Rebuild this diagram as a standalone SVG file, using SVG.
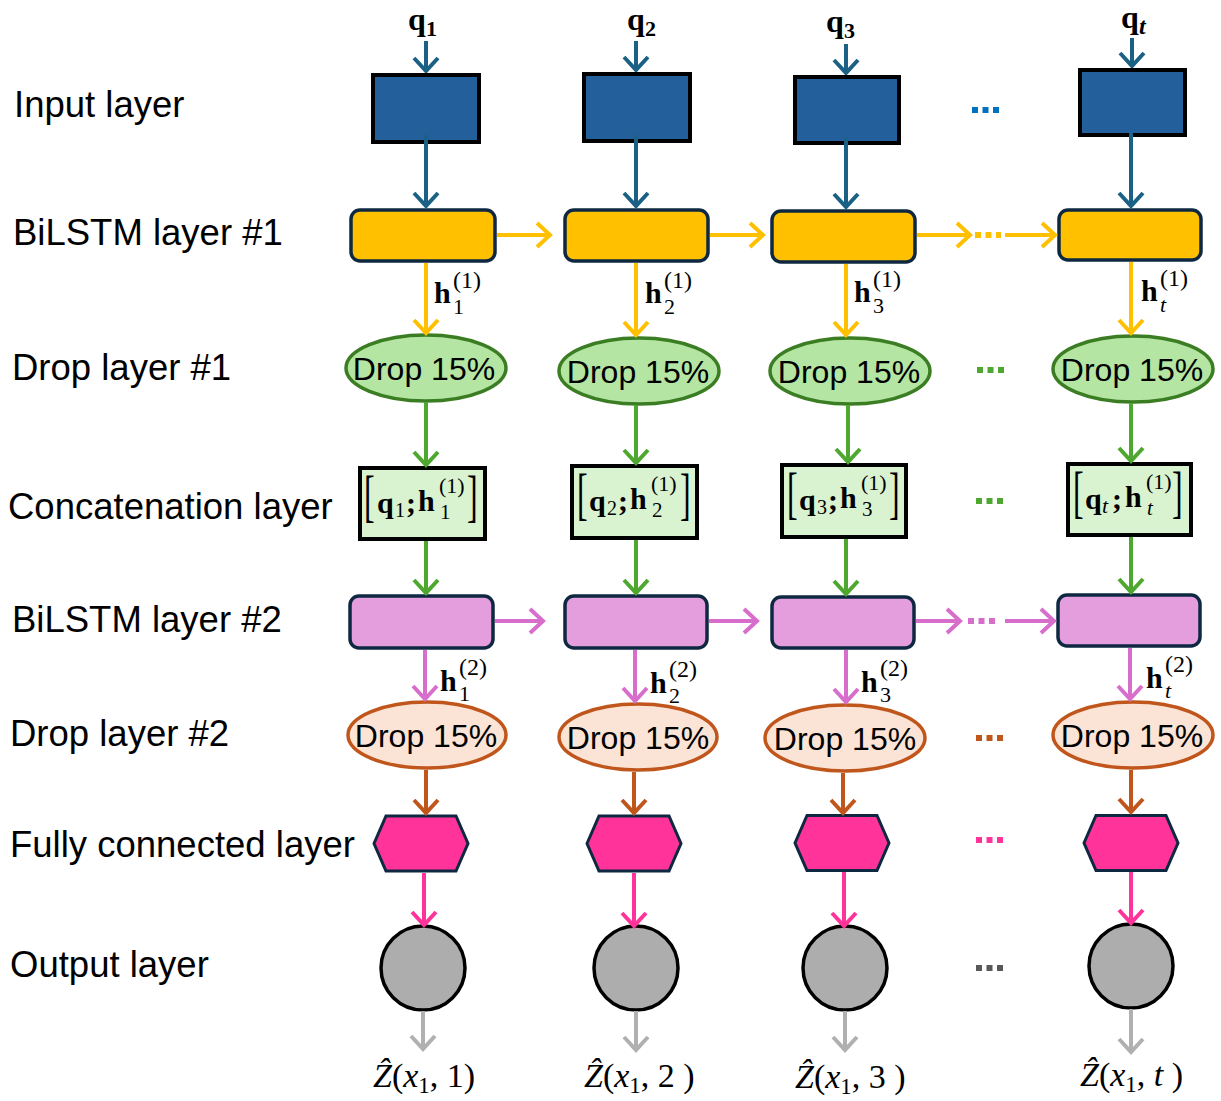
<svg xmlns="http://www.w3.org/2000/svg" width="1221" height="1101" viewBox="0 0 1221 1101">
<style>
.lbl{font-family:"Liberation Sans",Arial,sans-serif;font-size:36.5px;fill:#000}
.drop{font-family:"Liberation Sans",Arial,sans-serif;font-size:32px;fill:#000;text-anchor:middle}
.m{font-family:"Liberation Serif","Times New Roman",serif;fill:#000}
.b{font-weight:bold}
.i{font-style:italic}
.inp{fill:#225F9B;stroke:#000;stroke-width:4}
.ls1{fill:#FFC000;stroke:#0E2841;stroke-width:3.5}
.ls2{fill:#E59EDD;stroke:#0E2841;stroke-width:3.5}
.d1{fill:#B4E5A2;stroke:#3B7D23;stroke-width:3.5}
.d2{fill:#FBE3D6;stroke:#C0561B;stroke-width:3.5}
.cat{fill:#D9F2D0;stroke:#000;stroke-width:4}
.fc{fill:#FF3399;stroke:#0E2841;stroke-width:3}
.out{fill:#ADADAD;stroke:#000;stroke-width:3.5}
.a{fill:none;stroke-width:4}
.blue{stroke:#1B6186}
.yel{stroke:#FFC000}
.grn{stroke:#4EA72E}
.lil{stroke:#D86ECC}
.brn{stroke:#C0561B}
.pnk{stroke:#FF3399}
.gry{stroke:#B0B0B0}
.dots{fill:none;stroke-width:6;stroke-dasharray:6 4.5}
</style>
<defs>
<marker id="mb" markerUnits="userSpaceOnUse" markerWidth="30" markerHeight="30" refX="14" refY="12" orient="auto" overflow="visible"><path d="M1,0 L14,12 L1,24" fill="none" stroke="#1B6186" stroke-width="4"/></marker>
<marker id="my" markerUnits="userSpaceOnUse" markerWidth="30" markerHeight="30" refX="14" refY="12" orient="auto" overflow="visible"><path d="M1,0 L14,12 L1,24" fill="none" stroke="#FFC000" stroke-width="4"/></marker>
<marker id="mg" markerUnits="userSpaceOnUse" markerWidth="30" markerHeight="30" refX="14" refY="12" orient="auto" overflow="visible"><path d="M1,0 L14,12 L1,24" fill="none" stroke="#4EA72E" stroke-width="4"/></marker>
<marker id="ml" markerUnits="userSpaceOnUse" markerWidth="30" markerHeight="30" refX="14" refY="12" orient="auto" overflow="visible"><path d="M1,0 L14,12 L1,24" fill="none" stroke="#D86ECC" stroke-width="4"/></marker>
<marker id="mr" markerUnits="userSpaceOnUse" markerWidth="30" markerHeight="30" refX="14" refY="12" orient="auto" overflow="visible"><path d="M1,0 L14,12 L1,24" fill="none" stroke="#C0561B" stroke-width="4"/></marker>
<marker id="mp" markerUnits="userSpaceOnUse" markerWidth="30" markerHeight="30" refX="14" refY="12" orient="auto" overflow="visible"><path d="M1,0 L14,12 L1,24" fill="none" stroke="#FF3399" stroke-width="4"/></marker>
<marker id="ma" markerUnits="userSpaceOnUse" markerWidth="30" markerHeight="30" refX="14" refY="12" orient="auto" overflow="visible"><path d="M1,0 L14,12 L1,24" fill="none" stroke="#B0B0B0" stroke-width="4"/></marker>
<polygon id="hex" points="-47,0 -35,-27.5 35,-27.5 47,0 35,27.5 -35,27.5"/>
</defs>

<g id="layer-labels">
<text class="lbl" x="14" y="117">Input layer</text>
<text class="lbl" x="13" y="245">BiLSTM layer #1</text>
<text class="lbl" x="12" y="380">Drop layer #1</text>
<text class="lbl" x="8" y="519">Concatenation layer</text>
<text class="lbl" x="12" y="632">BiLSTM layer #2</text>
<text class="lbl" x="10" y="746">Drop layer #2</text>
<text class="lbl" x="10" y="857">Fully connected layer</text>
<text class="lbl" x="10" y="977">Output layer</text>
</g>

<g id="input-labels">
<text class="m b" x="408" y="30" font-size="32">q</text><text class="m b" x="426" y="36" font-size="22">1</text>
<text class="m b" x="627" y="30" font-size="32">q</text><text class="m b" x="645" y="36" font-size="22">2</text>
<text class="m b" x="826" y="32" font-size="32">q</text><text class="m b" x="844" y="38" font-size="22">3</text>
<text class="m b" x="1121" y="28" font-size="32">q</text><text class="m b i" x="1139" y="34" font-size="24">t</text>
</g>

<g id="connectors">
<line class="a blue" x1="426" y1="41" x2="426" y2="71" marker-end="url(#mb)"/>
<line class="a blue" x1="636" y1="41" x2="636" y2="70" marker-end="url(#mb)"/>
<line class="a blue" x1="846" y1="44" x2="846" y2="73" marker-end="url(#mb)"/>
<line class="a blue" x1="1132" y1="38" x2="1132" y2="66" marker-end="url(#mb)"/>
</g>

<g id="input-1"><rect class="inp" x="373" y="75" width="106" height="67"/></g>
<g id="input-2"><rect class="inp" x="584" y="74" width="106" height="67"/></g>
<g id="input-3"><rect class="inp" x="795" y="77" width="104" height="66"/></g>
<g id="input-t"><rect class="inp" x="1080" y="70" width="105" height="65"/></g>

<g id="bilstm1-1"><rect class="ls1" x="351" y="210" width="144" height="51" rx="9"/></g>
<g id="bilstm1-2"><rect class="ls1" x="565" y="210" width="143" height="51" rx="9"/></g>
<g id="bilstm1-3"><rect class="ls1" x="772" y="211" width="143" height="51" rx="9"/></g>
<g id="bilstm1-t"><rect class="ls1" x="1059" y="210" width="142" height="50" rx="9"/></g>

<g id="drop1-1"><ellipse class="d1" cx="426" cy="368" rx="80" ry="33"/><text class="drop" x="424" y="380">Drop 15%</text></g>
<g id="drop1-2"><ellipse class="d1" cx="639" cy="371" rx="80" ry="33"/><text class="drop" x="638" y="383">Drop 15%</text></g>
<g id="drop1-3"><ellipse class="d1" cx="850" cy="371" rx="80" ry="33"/><text class="drop" x="849" y="383">Drop 15%</text></g>
<g id="drop1-t"><ellipse class="d1" cx="1133" cy="369" rx="80" ry="33"/><text class="drop" x="1132" y="381">Drop 15%</text></g>

<g id="concat-1"><rect class="cat" x="360" y="468" width="125" height="71"/>
<text class="m" font-size="32" transform="translate(364,515) scale(1,1.75)">[</text>
<text class="m b" x="377" y="513" font-size="30">q</text><text class="m" x="395" y="517" font-size="20">1</text>
<text class="m b" x="406" y="513" font-size="30">;</text>
<text class="m b" x="418" y="511" font-size="30">h</text><text class="m" x="439" y="493" font-size="22">(1)</text><text class="m" x="440" y="519" font-size="21">1</text>
<text class="m" font-size="32" transform="translate(467,515) scale(1,1.75)">]</text>
</g>
<g id="concat-2"><rect class="cat" x="572" y="466" width="125" height="72"/>
<text class="m" font-size="32" transform="translate(577,513) scale(1,1.75)">[</text>
<text class="m b" x="589" y="511" font-size="30">q</text><text class="m" x="607" y="515" font-size="20">2</text>
<text class="m b" x="618" y="511" font-size="30">;</text>
<text class="m b" x="630" y="509" font-size="30">h</text><text class="m" x="651" y="491" font-size="22">(1)</text><text class="m" x="652" y="517" font-size="21">2</text>
<text class="m" font-size="32" transform="translate(680,513) scale(1,1.75)">]</text>
</g>
<g id="concat-3"><rect class="cat" x="782" y="465" width="124" height="72"/>
<text class="m" font-size="32" transform="translate(787,512) scale(1,1.75)">[</text>
<text class="m b" x="799" y="510" font-size="30">q</text><text class="m" x="817" y="514" font-size="20">3</text>
<text class="m b" x="828" y="510" font-size="30">;</text>
<text class="m b" x="840" y="508" font-size="30">h</text><text class="m" x="861" y="490" font-size="22">(1)</text><text class="m" x="862" y="516" font-size="21">3</text>
<text class="m" font-size="32" transform="translate(889,512) scale(1,1.75)">]</text>
</g>
<g id="concat-t"><rect class="cat" x="1068" y="464" width="123" height="71"/>
<text class="m" font-size="32" transform="translate(1073,511) scale(1,1.75)">[</text>
<text class="m b" x="1085" y="509" font-size="30">q</text><text class="m i" x="1102" y="513" font-size="22">t</text>
<text class="m b" x="1112" y="509" font-size="30">;</text>
<text class="m b" x="1125" y="507" font-size="30">h</text><text class="m" x="1146" y="489" font-size="22">(1)</text><text class="m i" x="1147" y="515" font-size="21">t</text>
<text class="m" font-size="32" transform="translate(1172,511) scale(1,1.75)">]</text>
</g>

<g id="bilstm2-1"><rect class="ls2" x="350" y="596" width="143" height="52" rx="9"/></g>
<g id="bilstm2-2"><rect class="ls2" x="565" y="596" width="142" height="52" rx="9"/></g>
<g id="bilstm2-3"><rect class="ls2" x="772" y="597" width="142" height="51" rx="9"/></g>
<g id="bilstm2-t"><rect class="ls2" x="1058" y="595" width="142" height="51" rx="9"/></g>

<g id="drop2-1"><ellipse class="d2" cx="427" cy="735" rx="79" ry="33"/><text class="drop" x="426" y="747">Drop 15%</text></g>
<g id="drop2-2"><ellipse class="d2" cx="638" cy="737" rx="79" ry="33"/><text class="drop" x="638" y="749">Drop 15%</text></g>
<g id="drop2-3"><ellipse class="d2" cx="845" cy="738" rx="80" ry="33"/><text class="drop" x="845" y="750">Drop 15%</text></g>
<g id="drop2-t"><ellipse class="d2" cx="1133" cy="735" rx="80" ry="33"/><text class="drop" x="1132" y="747">Drop 15%</text></g>

<g id="fc-1"><use href="#hex" class="fc" transform="translate(421,843.5)"/></g>
<g id="fc-2"><use href="#hex" class="fc" transform="translate(634,843.5)"/></g>
<g id="fc-3"><use href="#hex" class="fc" transform="translate(842,843)"/></g>
<g id="fc-t"><use href="#hex" class="fc" transform="translate(1131,843)"/></g>

<g id="out-1"><circle class="out" cx="423" cy="968" r="42"/></g>
<g id="out-2"><circle class="out" cx="636" cy="968" r="42"/></g>
<g id="out-3"><circle class="out" cx="845" cy="968" r="42"/></g>
<g id="out-t"><circle class="out" cx="1131" cy="966" r="42"/></g>

<g id="connectors-main">
<line class="a blue" x1="426" y1="135" x2="426" y2="206" marker-end="url(#mb)"/>
<line class="a blue" x1="636" y1="135" x2="636" y2="206" marker-end="url(#mb)"/>
<line class="a blue" x1="846" y1="138" x2="846" y2="207" marker-end="url(#mb)"/>
<line class="a blue" x1="1131" y1="133" x2="1131" y2="206" marker-end="url(#mb)"/>
<line class="a yel" x1="497" y1="235" x2="550" y2="235" marker-end="url(#my)"/>
<line class="a yel" x1="710" y1="235" x2="763" y2="235" marker-end="url(#my)"/>
<line class="a yel" x1="917" y1="235" x2="970" y2="235" marker-end="url(#my)"/>
<line class="dots yel" x1="975" y1="235" x2="1001" y2="235"/>
<line class="a yel" x1="1005" y1="235" x2="1055" y2="235" marker-end="url(#my)"/>
<line class="a yel" x1="426" y1="263" x2="426" y2="333" marker-end="url(#my)"/>
<line class="a yel" x1="636" y1="263" x2="636" y2="335" marker-end="url(#my)"/>
<line class="a yel" x1="846" y1="264" x2="846" y2="335" marker-end="url(#my)"/>
<line class="a yel" x1="1131" y1="262" x2="1131" y2="333" marker-end="url(#my)"/>
<line class="a grn" x1="426" y1="402" x2="426" y2="465" marker-end="url(#mg)"/>
<line class="a grn" x1="636" y1="405" x2="636" y2="463" marker-end="url(#mg)"/>
<line class="a grn" x1="848" y1="405" x2="848" y2="462" marker-end="url(#mg)"/>
<line class="a grn" x1="1131" y1="403" x2="1131" y2="461" marker-end="url(#mg)"/>
<line class="a grn" x1="426" y1="541" x2="426" y2="593" marker-end="url(#mg)"/>
<line class="a grn" x1="636" y1="540" x2="636" y2="593" marker-end="url(#mg)"/>
<line class="a grn" x1="846" y1="539" x2="846" y2="594" marker-end="url(#mg)"/>
<line class="a grn" x1="1131" y1="537" x2="1131" y2="592" marker-end="url(#mg)"/>
<line class="a lil" x1="495" y1="621" x2="543" y2="621" marker-end="url(#ml)"/>
<line class="a lil" x1="709" y1="621" x2="757" y2="621" marker-end="url(#ml)"/>
<line class="a lil" x1="916" y1="621" x2="960" y2="621" marker-end="url(#ml)"/>
<line class="dots lil" x1="968" y1="621" x2="998" y2="621"/>
<line class="a lil" x1="1005" y1="621" x2="1054" y2="621" marker-end="url(#ml)"/>
<line class="a lil" x1="425" y1="650" x2="425" y2="699" marker-end="url(#ml)"/>
<line class="a lil" x1="635" y1="650" x2="635" y2="701" marker-end="url(#ml)"/>
<line class="a lil" x1="846" y1="650" x2="846" y2="702" marker-end="url(#ml)"/>
<line class="a lil" x1="1130" y1="648" x2="1130" y2="699" marker-end="url(#ml)"/>
<line class="a brn" x1="426" y1="770" x2="426" y2="813" marker-end="url(#mr)"/>
<line class="a brn" x1="634" y1="772" x2="634" y2="813" marker-end="url(#mr)"/>
<line class="a brn" x1="843" y1="773" x2="843" y2="813" marker-end="url(#mr)"/>
<line class="a brn" x1="1131" y1="770" x2="1131" y2="812" marker-end="url(#mr)"/>
<line class="a pnk" x1="424" y1="873" x2="424" y2="925" marker-end="url(#mp)"/>
<line class="a pnk" x1="634" y1="873" x2="634" y2="926" marker-end="url(#mp)"/>
<line class="a pnk" x1="844" y1="872" x2="844" y2="926" marker-end="url(#mp)"/>
<line class="a pnk" x1="1131" y1="872" x2="1131" y2="923" marker-end="url(#mp)"/>
<line class="a gry" x1="423" y1="1011" x2="423" y2="1049" marker-end="url(#ma)"/>
<line class="a gry" x1="636" y1="1011" x2="636" y2="1050" marker-end="url(#ma)"/>
<line class="a gry" x1="845" y1="1011" x2="845" y2="1050" marker-end="url(#ma)"/>
<line class="a gry" x1="1131" y1="1009" x2="1131" y2="1052" marker-end="url(#ma)"/>
</g>

<g id="ellipsis">
<line class="dots" stroke="#0070C0" x1="972" y1="110" x2="1000" y2="110"/>
<line class="dots" stroke="#4EA72E" x1="977" y1="370" x2="1005" y2="370"/>
<line class="dots" stroke="#4EA72E" x1="976" y1="501" x2="1004" y2="501"/>
<line class="dots" stroke="#C0561B" x1="976" y1="738" x2="1004" y2="738"/>
<line class="dots" stroke="#FF3399" x1="976" y1="840" x2="1004" y2="840"/>
<line class="dots" stroke="#595959" x1="976" y1="968" x2="1004" y2="968"/>
</g>

<g id="h-labels">
<text class="m b" x="434" y="303" font-size="30">h</text><text class="m" x="453" y="288" font-size="24">(1)</text><text class="m" x="453" y="314" font-size="22">1</text>
<text class="m b" x="645" y="303" font-size="30">h</text><text class="m" x="664" y="288" font-size="24">(1)</text><text class="m" x="664" y="314" font-size="22">2</text>
<text class="m b" x="854" y="302" font-size="30">h</text><text class="m" x="873" y="287" font-size="24">(1)</text><text class="m" x="873" y="313" font-size="22">3</text>
<text class="m b" x="1141" y="301" font-size="30">h</text><text class="m" x="1160" y="286" font-size="24">(1)</text><text class="m i" x="1160" y="312" font-size="22">t</text>

<text class="m b" x="440" y="691" font-size="30">h</text><text class="m" x="459" y="675" font-size="24">(2)</text><text class="m" x="459" y="701" font-size="22">1</text>
<text class="m b" x="650" y="693" font-size="30">h</text><text class="m" x="669" y="677" font-size="24">(2)</text><text class="m" x="669" y="703" font-size="22">2</text>
<text class="m b" x="861" y="692" font-size="30">h</text><text class="m" x="880" y="676" font-size="24">(2)</text><text class="m" x="880" y="702" font-size="22">3</text>
<text class="m b" x="1146" y="688" font-size="30">h</text><text class="m" x="1165" y="672" font-size="24">(2)</text><text class="m i" x="1165" y="698" font-size="22">t</text>
</g>

<g id="output-labels" class="m" font-size="34">
<text x="373" y="1087"><tspan class="i">Ẑ</tspan>(<tspan class="i">x</tspan><tspan font-size="23" dy="6">1</tspan><tspan dy="-6">, 1)</tspan></text>
<text x="584" y="1087"><tspan class="i">Ẑ</tspan>(<tspan class="i">x</tspan><tspan font-size="23" dy="6">1</tspan><tspan dy="-6">, 2 )</tspan></text>
<text x="795" y="1088"><tspan class="i">Ẑ</tspan>(<tspan class="i">x</tspan><tspan font-size="23" dy="6">1</tspan><tspan dy="-6">, 3 )</tspan></text>
<text x="1080" y="1086"><tspan class="i">Ẑ</tspan>(<tspan class="i">x</tspan><tspan font-size="23" dy="6">1</tspan><tspan dy="-6">, </tspan><tspan class="i">t</tspan> )</text>
</g>
</svg>
